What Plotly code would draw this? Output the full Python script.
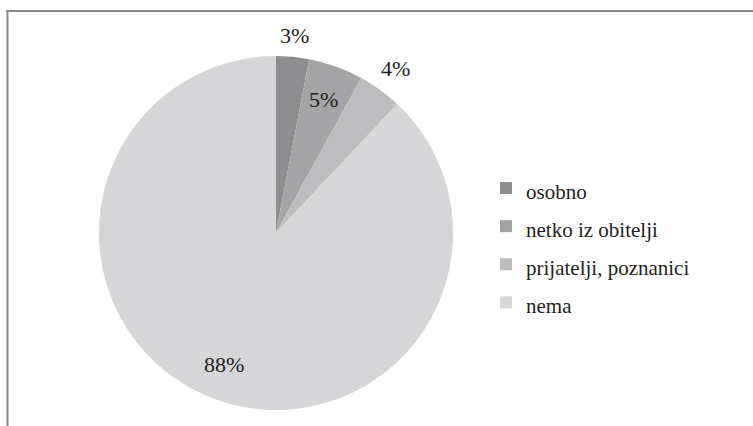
import math
import plotly.graph_objects as go

categories = ["osobno", "netko iz obitelji", "prijatelji, poznanici", "nema"]
values = [3, 5, 4, 88]
colors = ["#8e8e90", "#a4a4a6", "#bdbdbf", "#d6d6d8"]
label_radius = [1.12, 0.8, 1.15, 0.8]   # relative to pie radius (outside / inside labels)

W, H = 753, 426
cx, cy, r = 276, 233, 177
FONT = "Liberation Serif"

legend_labels = [f"<span style='font-size:21px'>{c}</span>" for c in categories]

fig = go.Figure(go.Pie(
    labels=legend_labels,
    values=values,
    sort=False,
    direction="clockwise",
    rotation=0,
    marker=dict(colors=colors, line=dict(width=0)),
    textinfo="none",
    domain=dict(x=[(cx - r) / W, (cx + r) / W], y=[(H - cy - r) / H, (H - cy + r) / H]),
    hoverinfo="percent",
))

# percentage labels placed at slice mid-angles
total = sum(values)
annotations = []
cum = 0
for v, k in zip(values, label_radius):
    mid = (cum + v / 2) / total * 2 * math.pi
    cum += v
    px = cx + k * r * math.sin(mid)
    py = cy - k * r * math.cos(mid)
    annotations.append(dict(
        x=px / W, y=(H - py) / H, xref="paper", yref="paper",
        text=f"{round(v / total * 100)}%", showarrow=False,
        font=dict(family=FONT, size=22, color="#231f20"),
        xanchor="center", yanchor="middle",
    ))

fig.update_layout(
    width=W, height=H,
    margin=dict(l=0, r=0, t=0, b=0),
    paper_bgcolor="white",
    plot_bgcolor="white",
    font=dict(family=FONT),
    showlegend=True,
    legend=dict(
        x=486 / W, y=(H - 164) / H, xanchor="left", yanchor="top",
        font=dict(family=FONT, size=27, color="#231f20"),
        bgcolor="rgba(0,0,0,0)",
        itemwidth=30,
    ),
    annotations=annotations,
    shapes=[
        dict(type="line", xref="paper", yref="paper", x0=6 / W, x1=1, y0=(H - 11) / H, y1=(H - 11) / H,
             line=dict(color="#888888", width=2)),
        dict(type="line", xref="paper", yref="paper", x0=7.5 / W, x1=7.5 / W, y0=0, y1=(H - 11) / H,
             line=dict(color="#888888", width=2)),
    ],
)

fig.write_html("out.html", config=dict(displayModeBar=False),
               post_script="document.body.style.margin='0px';")
